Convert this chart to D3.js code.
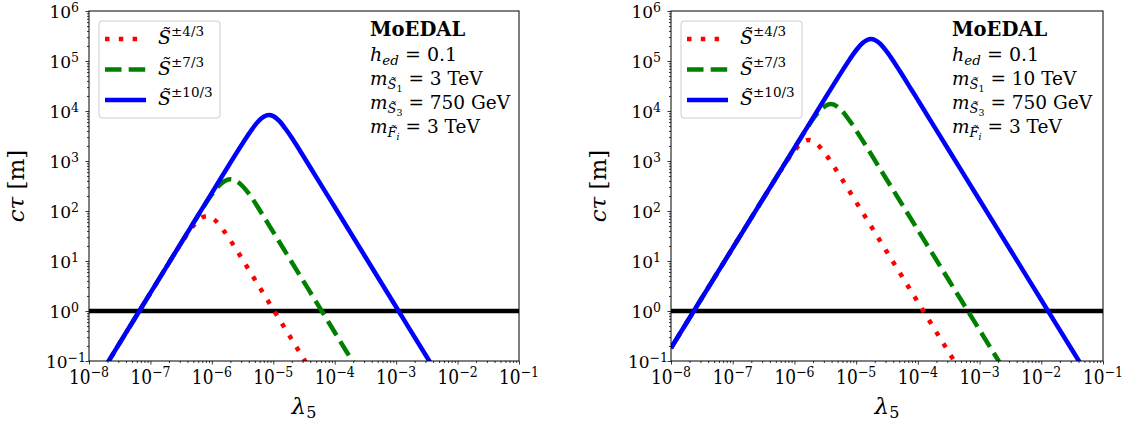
<!DOCTYPE html>
<html>
<head>
<meta charset="utf-8">
<script src="https://cdn.jsdelivr.net/npm/d3@7"></script>
<style>
body { margin: 0; background: #fff; }
text { font-family: "DejaVu Serif", serif; fill: #000; }
</style>
</head>
<body>
<svg id="chart" width="1129" height="421"></svg>
<script>
// values

// left panel (m_S1 = 3 TeV)
var lamA_43 = [1.78e-8, 1e-7, 3.16e-7, 5.01e-7, 7.08e-7, 8.5e-7, 1.12e-6, 1.58e-6, 2.51e-6, 5.01e-6, 1e-5, 2e-5, 3.98e-5]
var ctA_43  = [0.072, 2.29, 22.4, 50.7, 74.7, 79, 65.7, 39.7, 16.8, 4.26, 1.07, 0.27, 0.068]
var lamA_73 = [1.78e-8, 1e-7, 3.16e-7, 6.31e-7, 1e-6, 1.41e-6, 2e-6, 2.82e-6, 3.98e-6, 6.31e-6, 1e-5, 2.51e-5, 6.31e-5, 1.58e-4, 2.24e-4]
var ctA_73  = [0.072, 2.29, 22.9, 90, 214, 350, 430, 360, 225, 94.5, 37.9, 6.0, 0.95, 0.15, 0.076]
var lamA_103 = [1.78e-8, 3.16e-8, 1e-7, 3.16e-7, 1e-6, 3.16e-6, 4.47e-6, 5.62e-6, 7.08e-6, 8.5e-6, 1e-5, 1.26e-5, 1.58e-5, 2e-5, 2.51e-5, 5.01e-5, 1e-4, 3.16e-4, 1e-3, 3.16e-3, 3.98e-3]
var ctA_103  = [0.072, 0.23, 2.3, 23, 230, 2250, 4250, 6100, 7760, 8300, 7890, 6280, 4420, 2920, 1880, 477, 120, 12, 1.2, 0.12, 0.076]

// right panel (m_S1 = 10 TeV)
var lamB_43 = [1e-8, 3.16e-8, 1e-7, 3.16e-7, 6.31e-7, 1e-6, 1.26e-6, 1.7e-6, 2.24e-6, 3.16e-6, 5.01e-6, 1e-5, 3.16e-5, 1e-4, 3.16e-4, 4.47e-4]
var ctB_43  = [0.182, 1.82, 18.2, 182, 711, 1620, 2215, 2625, 2270, 1400, 595, 151, 15.1, 1.51, 0.151, 0.076]
var lamB_73 = [1e-8, 3.16e-8, 1e-7, 3.16e-7, 1e-6, 1.58e-6, 2.51e-6, 3.89e-6, 5.62e-6, 7.94e-6, 1.26e-5, 2.51e-5, 1e-4, 3.16e-4, 1e-3, 2.51e-3]
var ctB_73  = [0.182, 1.82, 18.2, 182, 1810, 4450, 9780, 13770, 10730, 6245, 2610, 660, 41.7, 4.17, 0.417, 0.066]
var lamB_103 = [1e-8, 3.16e-8, 1e-7, 3.16e-7, 1e-6, 3.16e-6, 5.01e-6, 6.31e-6, 7.94e-6, 1e-5, 1.26e-5, 1.74e-5, 2.4e-5, 3.16e-5, 3.98e-5, 5.01e-5, 7.94e-5, 1e-4, 3.16e-4, 1e-3, 3.16e-3, 1e-2, 3.16e-2, 4.47e-2]
var ctB_103  = [0.182, 1.82, 18.2, 182, 1820, 18150, 45400, 71200, 110000, 164000, 226000, 274700, 226000, 152000, 101000, 65100, 26250, 16600, 1660, 166, 16.6, 1.66, 0.166, 0.083]

var xTickValues = [1e-8, 1e-7, 1e-6, 1e-5, 1e-4, 1e-3, 1e-2, 1e-1]
var xTickExp = ['\u22128', '\u22127', '\u22126', '\u22125', '\u22124', '\u22123', '\u22122', '\u22121']
var yTickValues = [1e-1, 1, 1e1, 1e2, 1e3, 1e4, 1e5, 1e6]
var yTickExp = ['\u22121', '0', '1', '2', '3', '4', '5', '6']

var legendLabels = ['\u00b14/3', '\u00b17/3', '\u00b110/3']
var mS1Labels = ['3 TeV', '10 TeV']

var colors = ['#ff0000', '#008000', '#0000ff']
var dashes = ['4.5,9.3', '16.5,7.2', null]

var plotTop = 11
var plotBottom = 361
var panels = [
  { left: 89, right: 519, series: [[lamA_43, ctA_43], [lamA_73, ctA_73], [lamA_103, ctA_103]], mS1: mS1Labels[0] },
  { left: 671, right: 1103, series: [[lamB_43, ctB_43], [lamB_73, ctB_73], [lamB_103, ctB_103]], mS1: mS1Labels[1] }
]

var svg = d3.select('#chart')

function minorTicks(lo, hi) {
  var out = []
  for (var e = lo; e < hi; e++) {
    for (var k = 2; k <= 9; k++) out.push(k * Math.pow(10, e))
  }
  return out
}

// "10" with a raised exponent; stretch makes the x labels a bit taller like the picture
function powerLabel(xx, yy, anchor, exp, stretch) {
  var t = svg.append('text')
    .attr('transform', 'translate(' + xx + ',' + yy + ') scale(1,' + stretch + ')')
    .attr('text-anchor', anchor).style('font-size', '17px')
  t.append('tspan').text('10')
  t.append('tspan').attr('dy', -5.5).style('font-size', '12.5px').text(exp)
}

panels.forEach(function (p, pi) {
  var x = d3.scaleLog().domain([1e-8, 1e-1]).range([p.left, p.right])
  var y = d3.scaleLog().domain([1e-1, 1e6]).range([plotBottom, plotTop])

  var clipId = 'clip' + pi
  svg.append('clipPath').attr('id', clipId)
    .append('rect')
    .attr('x', p.left).attr('y', plotTop)
    .attr('width', p.right - p.left).attr('height', plotBottom - plotTop)

  var g = svg.append('g').attr('clip-path', 'url(#' + clipId + ')')

  // horizontal line at c*tau = 1 m
  g.append('line')
    .attr('x1', p.left).attr('x2', p.right)
    .attr('y1', y(1)).attr('y2', y(1))
    .attr('stroke', '#000').attr('stroke-width', 4.5)

  var line = d3.line()
    .x(function (d) { return x(d[0]) })
    .y(function (d) { return y(d[1]) })
    .curve(d3.curveMonotoneX)

  p.series.forEach(function (s, si) {
    var pts = s[0].map(function (v, i) { return [v, s[1][i]] })
    g.append('path')
      .attr('d', line(pts))
      .attr('fill', 'none')
      .attr('stroke', colors[si])
      .attr('stroke-width', 4.5)
      .attr('stroke-dasharray', dashes[si])
  })

  // axes
  var xAxisG = svg.append('g').attr('transform', 'translate(0,' + plotBottom + ')')
  xAxisG.append('g').call(d3.axisBottom(x).tickValues(minorTicks(-8, -1)).tickSize(2).tickFormat(''))
  xAxisG.append('g').call(d3.axisBottom(x).tickValues(xTickValues).tickSize(3.5).tickFormat(''))
  var yAxisG = svg.append('g').attr('transform', 'translate(' + p.left + ',0)')
  yAxisG.append('g').call(d3.axisLeft(y).tickValues(minorTicks(-1, 6)).tickSize(2).tickFormat(''))
  yAxisG.append('g').call(d3.axisLeft(y).tickValues(yTickValues).tickSize(3.5).tickFormat(''))
  svg.selectAll('.domain').remove()
  svg.selectAll('.tick line').attr('stroke', '#000').attr('stroke-width', 0.8)

  svg.append('rect')
    .attr('x', p.left).attr('y', plotTop)
    .attr('width', p.right - p.left).attr('height', plotBottom - plotTop)
    .attr('fill', 'none').attr('stroke', '#000').attr('stroke-width', 1)

  // tick labels
  xTickValues.forEach(function (v, i) {
    powerLabel(x(v), plotBottom + 22.5, 'middle', xTickExp[i], 1.15)
  })
  yTickValues.forEach(function (v, i) {
    var off = yTickExp[i].charAt(0) === '\u2212' ? 3 : 10
    powerLabel(p.left - off, y(v) + 6.5, 'end', yTickExp[i], 1)
  })

  // axis titles
  var cx = (p.left + p.right) / 2
  var xl = svg.append('text').attr('x', cx).attr('y', 414)
    .attr('text-anchor', 'middle').style('font-size', '23px')
  xl.append('tspan').style('font-style', 'italic').text('\u03bb')
  xl.append('tspan').attr('dy', 4).style('font-size', '16px').text('5')

  var yl = svg.append('text')
    .attr('transform', 'translate(' + (p.left - 65) + ',' + ((plotTop + plotBottom) / 2) + ') rotate(-90)')
    .attr('text-anchor', 'middle').style('font-size', '23px')
  yl.append('tspan').style('font-style', 'italic').text('c\u03c4')
  yl.append('tspan').text(' [m]')

  // legend
  var lg = svg.append('g').attr('transform', 'translate(' + (p.left + 10) + ',21)')
  lg.append('rect')
    .attr('width', 121).attr('height', 97).attr('rx', 3)
    .attr('fill', '#fff').attr('fill-opacity', 0.8)
    .attr('stroke', '#cccccc').attr('stroke-width', 1)
  legendLabels.forEach(function (lab, i) {
    var yy = 18 + i * 30.5
    lg.append('line')
      .attr('x1', 6).attr('x2', 47).attr('y1', yy).attr('y2', yy)
      .attr('stroke', colors[i]).attr('stroke-width', 4.5)
      .attr('stroke-dasharray', dashes[i])
    var t = lg.append('text').attr('x', 59).attr('y', yy + 5).style('font-size', '19px')
    t.append('tspan').style('font-style', 'italic').text('S\u0303')
    t.append('tspan').attr('dy', -8).style('font-size', '13.5px').text(lab)
  })

  // annotation
  var ax = p.left + 281
  svg.append('text').attr('x', ax).attr('y', 36)
    .style('font-size', '19.5px').style('font-weight', 'bold').text('MoEDAL')

  var t2 = svg.append('text').attr('x', ax).attr('y', 61).style('font-size', '19px')
  t2.append('tspan').style('font-style', 'italic').text('h')
  t2.append('tspan').attr('dy', 4).style('font-size', '13.5px').style('font-style', 'italic').text('ed')
  t2.append('tspan').attr('dy', -4).text(' = 0.1')

  function massLine(yy, sym, idx, val) {
    var t = svg.append('text').attr('x', ax).attr('y', yy).style('font-size', '18.5px')
    t.append('tspan').style('font-style', 'italic').text('m')
    t.append('tspan').attr('dy', 4).style('font-size', '13px').style('font-style', 'italic').text(sym)
    t.append('tspan').attr('dy', 3).style('font-size', '9.5px').style('font-style', idx === 'i' ? 'italic' : 'normal').text(idx)
    t.append('tspan').attr('dy', -7).text(' = ' + val)
  }
  massLine(85, 'S\u0303', '1', p.mS1)
  massLine(109, 'S\u0303', '3', '750 GeV')
  massLine(133, 'F\u0303', 'i', '3 TeV')
})
</script>
</body>
</html>
